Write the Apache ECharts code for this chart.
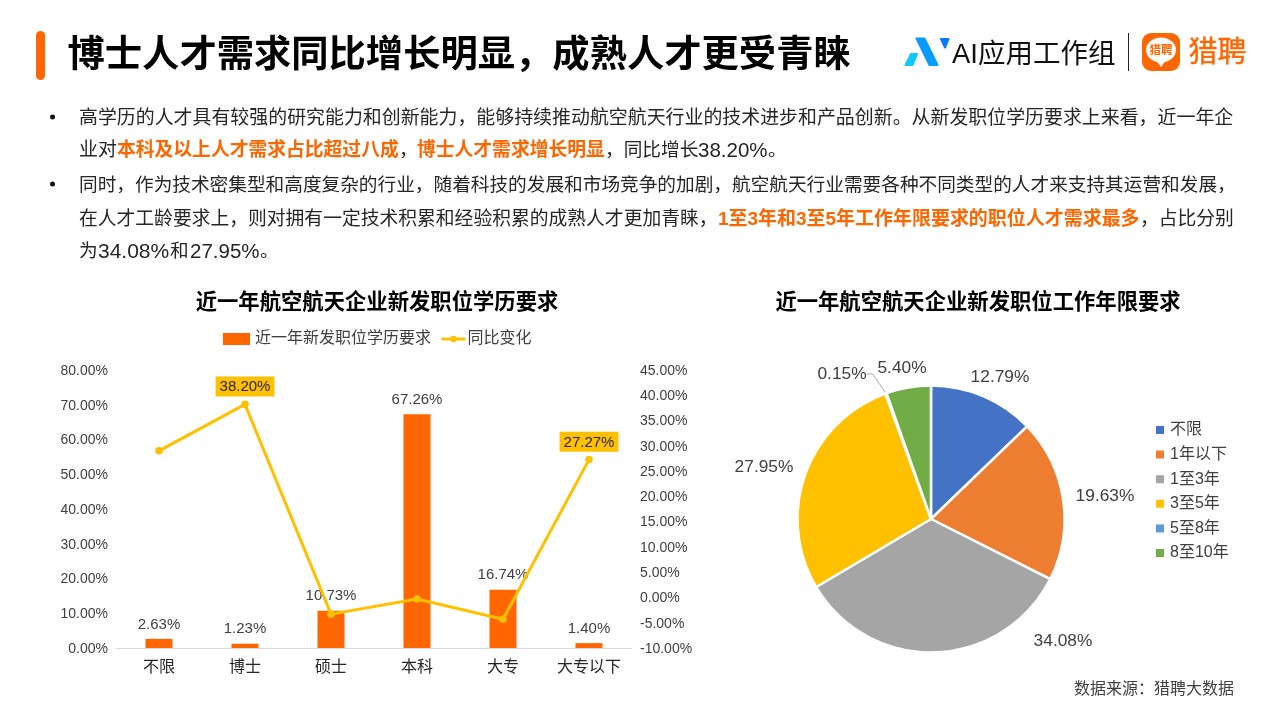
<!DOCTYPE html>
<html><head><meta charset="utf-8">
<style>html,body{margin:0;padding:0;background:#fff}#c{width:1280px;height:720px}</style>
<script src="https://cdn.jsdelivr.net/npm/echarts@6/dist/echarts.min.js"></script>
</head><body><div id="c"></div>
<script>
const FONT = '"Liberation Sans","Noto Sans CJK SC",sans-serif';
const categories = ['不限','博士','硕士','本科','大专','大专以下'];
const demand = [2.63,1.23,10.73,67.26,16.74,1.40];
const yoy = [29,38.20,-3.3,-0.3,-4.3,27.27];
const yoyLabelled = ['博士','大专以下'];
const pieNames = ['不限','1年以下','1至3年','3至5年','5至8年','8至10年'];
const pieValues = [12.79,19.63,34.08,27.95,0.15,5.40];
const pieColors = ['#4472C4','#ED7D31','#A5A5A5','#FFC000','#5B9BD5','#70AD47'];
const pieLabelAt = [[1000,377],[1105,496],[1063,641],[764,467],[842,374],[902,368]];
const ORANGE = '#FF6600', TEXT = '#404040';
const pct = v => v.toFixed(2) + '%';

function seg(x, y, text, size, bold){
  return {type:'text', x, y, style:{text, verticalAlign:'middle',
    font:(bold?'bold ':'')+size+'px '+FONT, fill:bold?ORANGE:'#262626'}};
}
const graphics = [
  {type:'rect', shape:{x:36,y:31,width:9,height:49,r:4.5}, style:{fill:ORANGE}},
  {type:'text', x:67.5, y:57, style:{text:'博士人才需求同比增长明显，成熟人才更受青睐', font:'bold 37.3px '+FONT, fill:'#000', verticalAlign:'middle'}},
  {type:'polygon', shape:{points:[[911,54],[917,54],[912.5,65],[905.5,65]]}, style:{fill:'#10C8FF',stroke:'#10C8FF',lineWidth:2,lineJoin:'round'}},
  {type:'polygon', shape:{points:[[916.5,38.5],[924.5,38.5],[937.5,65],[929.5,65]]}, style:{fill:'#0A9BFF',stroke:'#0A9BFF',lineWidth:2,lineJoin:'round'}},
  {type:'polygon', shape:{points:[[941,39],[948.5,39],[945,47.5]]}, style:{fill:'#0A7BFF',stroke:'#0A7BFF',lineWidth:2,lineJoin:'round'}},
  {type:'text', x:952, y:55, style:{text:'AI应用工作组', font:'27.5px '+FONT, fill:'#111', verticalAlign:'middle'}},
  {type:'rect', shape:{x:1128,y:33,width:1,height:38}, style:{fill:'#222'}},
  {type:'rect', shape:{x:1142,y:33,width:38,height:38,r:9}, style:{fill:ORANGE}},
  {type:'ellipse', shape:{cx:1161,cy:50,rx:15,ry:12.5}, style:{fill:'#fff'}},
  {type:'polygon', shape:{points:[[1156,60],[1166,60],[1161,67]]}, style:{fill:'#fff'}},
  {type:'text', x:1161, y:51, style:{text:'猎聘', font:'bold 11.5px '+FONT, fill:ORANGE, align:'center', verticalAlign:'middle'}},
  {type:'text', x:1188.5, y:54, style:{text:'猎聘', font:'29px '+FONT, fill:ORANGE, stroke:ORANGE, lineWidth:0.4, verticalAlign:'middle'}},
  {type:'circle', shape:{cx:52.5,cy:117,r:2.5}, style:{fill:'#111'}},
  {type:'circle', shape:{cx:52.5,cy:184,r:2.5}, style:{fill:'#111'}},
  seg(79,119,'高学历的人才具有较强的研究能力和创新能力，能够持续推动航空航天行业的技术进步和产品创新。从新发职位学历要求上来看，近一年企',18.93),
  seg(79,151,'业对',18.9),
  seg(117,151,'本科及以上人才需求占比超过八成',18.8,true),
  seg(399,151,'，',18.67),
  seg(417,151,'博士人才需求增长明显',18.8,true),
  seg(605,151,'，同比增长',18.67),
  seg(698,151,'38.20%',20.5),
  seg(768,151,'。',18.67),
  seg(79,186,'同时，作为技术密集型和高度复杂的行业，随着科技的发展和市场竞争的加剧，航空航天行业需要各种不同类型的人才来支持其运营和发展，',18.67),
  seg(79,220,'在人才工龄要求上，则对拥有一定技术积累和经验积累的成熟人才更加青睐，',18.8),
  seg(718,220,'1至3年和3至5年工作年限要求的职位人才需求最多',18.98,true),
  seg(1140,220,'，占比分别',18.8),
  seg(79,252,'为',18.67),
  seg(98,252,'34.08%',21),
  seg(170,252,'和',18.67),
  seg(190,252,'27.95%',20.5),
  seg(260,252,'。',18.67),
  {type:'text', x:1234, y:690, style:{text:'数据来源：猎聘大数据', font:'16px '+FONT, fill:'#404040', align:'right', verticalAlign:'middle'}}
];
const tickRich = {t:{fontFamily:FONT,fontSize:14,color:TEXT,padding:[2,0,0,0]}};
const tickFmt = v => '{t|' + pct(v) + '}';

const chart = echarts.init(document.getElementById('c'), null, {renderer:'canvas'});
chart.setOption({
  animation:false,
  textStyle:{fontFamily:FONT},
  title:[
    {text:'近一年航空航天企业新发职位学历要求', left:372, top:287, textAlign:'center', textStyle:{fontFamily:FONT,fontSize:21.33,fontWeight:'bold',color:'#000'}},
    {text:'近一年航空航天企业新发职位工作年限要求', left:973, top:287, textAlign:'center', textStyle:{fontFamily:FONT,fontSize:21.33,fontWeight:'bold',color:'#000'}}
  ],
  legend:[
    {top:331, left:223, padding:0, itemWidth:27, itemHeight:12, icon:'rect', selectedMode:false, data:['近一年新发职位学历要求'], textStyle:{fontFamily:FONT,fontSize:16,color:TEXT}},
    {top:331, left:440, padding:0, itemWidth:24, itemHeight:8, selectedMode:false, data:['同比变化'], lineStyle:{width:3}, textStyle:{fontFamily:FONT,fontSize:16,color:TEXT,padding:[0,0,0,-3]}},
    {orient:'vertical', left:1154, top:422, padding:0, itemWidth:10, itemHeight:10, itemGap:8.6, icon:'rect', selectedMode:false, data:pieNames, textStyle:{fontFamily:FONT,fontSize:16,color:TEXT}}
  ],
  grid:{left:116, right:648, top:370, bottom:72},
  xAxis:{type:'category', data:categories, axisLine:{lineStyle:{color:'#D9D9D9',width:1}}, axisTick:{show:false},
    axisLabel:{fontFamily:FONT,fontSize:16,color:'#262626',margin:12}},
  yAxis:[
    {type:'value', min:0, max:80, interval:10, splitLine:{show:false}, axisLine:{show:false}, axisTick:{show:false},
      axisLabel:{margin:8,rich:tickRich,formatter:tickFmt}},
    {type:'value', min:-10, max:45, interval:5, splitLine:{show:false}, axisLine:{show:false}, axisTick:{show:false},
      axisLabel:{margin:8,rich:tickRich,formatter:tickFmt}}
  ],
  series:[
    {name:'近一年新发职位学历要求', type:'bar', data:demand, barWidth:27, itemStyle:{color:ORANGE}, z:2,
      label:{show:true, position:'top', distance:7, fontFamily:FONT, fontSize:15, color:TEXT, formatter:p=>pct(p.value)}},
    {name:'同比变化', type:'line', yAxisIndex:1, z:3, symbol:'circle', symbolSize:7.5, showAllSymbol:true,
      lineStyle:{color:'#FFC000',width:3}, itemStyle:{color:'#FFC000'},
      data:yoy.map((v,i)=>({value:v, label:{show:yoyLabelled.includes(categories[i])}})),
      label:{position:'top', distance:4, fontFamily:FONT, fontSize:15, color:'#262626', backgroundColor:'#FFC000', padding:[3,4,2,4], formatter:p=>pct(p.value)}},
    {name:'工作年限', type:'pie', center:[931,519], radius:[0,133.5], startAngle:90, clockwise:true, z:2,
      data:pieNames.map((n,i)=>({name:n, value:pieValues[i], itemStyle:{color:pieColors[i]},
        labelLine:{show:n==='5至8年', length:12, length2:6, lineStyle:{color:'#A6A6A6',width:1}}})),
      itemStyle:{borderColor:'#fff',borderWidth:2.5},
      label:{show:true, position:'outside', fontFamily:FONT, fontSize:17.33, color:TEXT, formatter:p=>pct(p.value)},
      labelLayout:p=>({x:pieLabelAt[p.dataIndex][0], y:pieLabelAt[p.dataIndex][1], align:'center', verticalAlign:'middle'})}
  ],
  graphic:graphics
});
</script></body></html>
